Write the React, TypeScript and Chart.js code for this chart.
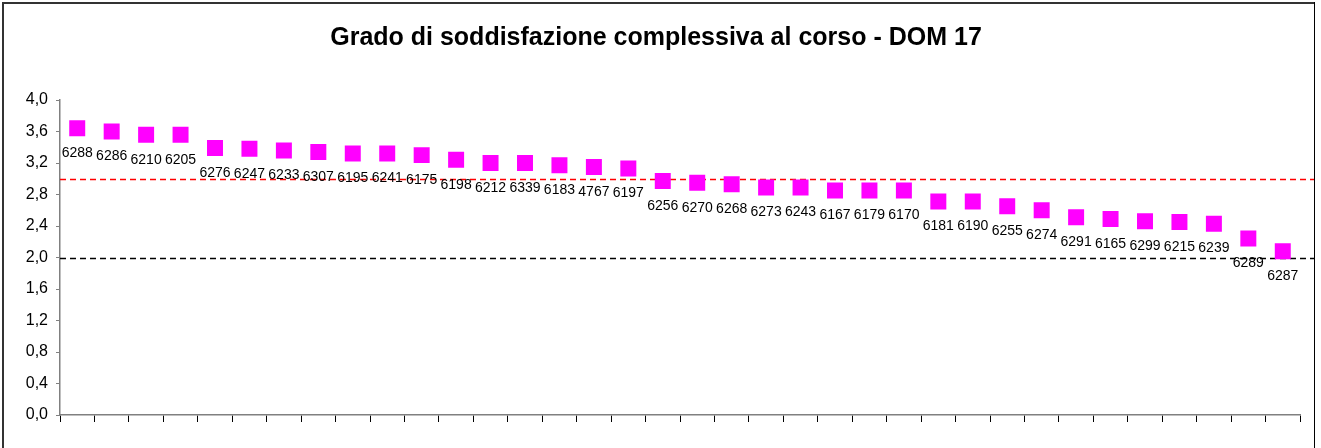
import React, { useEffect, useRef } from "react";
import { Chart, registerables } from "chart.js";

Chart.register(...registerables);

const TITLE = "Grado di soddisfazione complessiva al corso - DOM 17";

const CODES: string[] = [
  "6288", "6286", "6210", "6205", "6276", "6247", "6233", "6307", "6195", "6241",
  "6175", "6198", "6212", "6339", "6183", "4767", "6197", "6256", "6270", "6268",
  "6273", "6243", "6167", "6179", "6170", "6181", "6190", "6255", "6274", "6291",
  "6165", "6299", "6215", "6239", "6289", "6287",
];

const VALUES: number[] = [
  3.64, 3.60, 3.56, 3.56, 3.39, 3.38, 3.36, 3.34, 3.32, 3.32,
  3.30, 3.24, 3.20, 3.20, 3.17, 3.15, 3.13, 2.97, 2.95, 2.93,
  2.89, 2.89, 2.85, 2.85, 2.85, 2.71, 2.71, 2.65, 2.60, 2.51,
  2.49, 2.46, 2.45, 2.43, 2.24, 2.08,
];

const REF_HIGH = 3.0;
const REF_LOW = 2.0;

const Y_MIN = 0;
const Y_MAX = 4;
const Y_STEP = 0.4;

const FONT = "'Liberation Sans', Arial, sans-serif";

export default function App() {
  const ref = useRef<HTMLCanvasElement | null>(null);

  useEffect(() => {
    if (!ref.current) return;

    const decor = {
      id: "decor",
      beforeDatasetsDraw(chart: any) {
        const { ctx, chartArea } = chart;
        const y = chart.scales.y;
        ctx.save();
        // frame
        ctx.fillStyle = "#333333";
        ctx.fillRect(2, 2, 1313, 2);
        ctx.fillRect(2, 2, 2, 446);
        ctx.fillStyle = "#000000";
        ctx.fillRect(1314, 2, 1, 446);
        // title
        ctx.fillStyle = "#000000";
        ctx.font = `bold 25px ${FONT}`;
        ctx.textAlign = "center";
        ctx.textBaseline = "middle";
        ctx.fillText(TITLE, 656, 38);
        // reference lines
        const lines: [number, string][] = [
          [REF_HIGH, "#ff0000"],
          [REF_LOW, "#000000"],
        ];
        ctx.lineWidth = 1.5;
        ctx.setLineDash([6, 4]);
        for (const [v, c] of lines) {
          const py = Math.round(y.getPixelForValue(v)) + 0.5;
          ctx.strokeStyle = c;
          ctx.beginPath();
          ctx.moveTo(chartArea.left, py);
          ctx.lineTo(1314, py);
          ctx.stroke();
        }
        ctx.restore();
      },
      afterDatasetsDraw(chart: any) {
        const { ctx } = chart;
        const meta = chart.getDatasetMeta(0);
        ctx.save();
        ctx.fillStyle = "#000000";
        ctx.font = `14px ${FONT}`;
        ctx.textAlign = "center";
        ctx.textBaseline = "middle";
        meta.data.forEach((pt: any, i: number) => {
          ctx.fillText(CODES[i], pt.x, pt.y + 25);
        });
        ctx.restore();
      },
    };

    const chart = new Chart(ref.current, {
      type: "line",
      data: {
        labels: CODES,
        datasets: [
          {
            data: VALUES,
            showLine: false,
            pointStyle: "rect",
            pointRadius: 11.3,
            pointHoverRadius: 11.3,
            pointBackgroundColor: "#ff00ff",
            pointBorderColor: "#ff00ff",
            pointBorderWidth: 0,
          },
        ],
      },
      options: {
        responsive: false,
        animation: false,
        layout: { padding: { left: 0, right: 21, top: 100, bottom: 0 } },
        plugins: {
          legend: { display: false },
          title: { display: false },
          tooltip: { enabled: false },
        },
        scales: {
          x: {
            type: "category",
            offset: true,
            grid: {
              offset: true,
              drawOnChartArea: false,
              drawTicks: true,
              tickLength: 7,
              color: "#000000",
            },
            border: { display: true, color: "#808080", width: 1.5 },
            ticks: { display: false },
            afterFit(scale: any) {
              scale.height = 33;
            },
          },
          y: {
            min: Y_MIN,
            max: Y_MAX,
            grid: {
              drawOnChartArea: false,
              drawTicks: true,
              tickLength: 4,
              color: "#808080",
            },
            border: { display: true, color: "#808080", width: 1.5 },
            ticks: {
              stepSize: Y_STEP,
              color: "#000000",
              padding: 8,
              font: { family: FONT, size: 16 },
              callback: (v: any) => Number(v).toFixed(1).replace(".", ","),
            },
            afterFit(scale: any) {
              scale.width = 60;
            },
          },
        },
      },
      plugins: [decor],
    });

    return () => chart.destroy();
  }, []);

  return (
    <div style={{ position: "fixed", left: 0, top: 0, width: 1321, height: 448, background: "#fff" }}>
      <canvas ref={ref} width={1321} height={448} style={{ display: "block" }} />
    </div>
  );
}
